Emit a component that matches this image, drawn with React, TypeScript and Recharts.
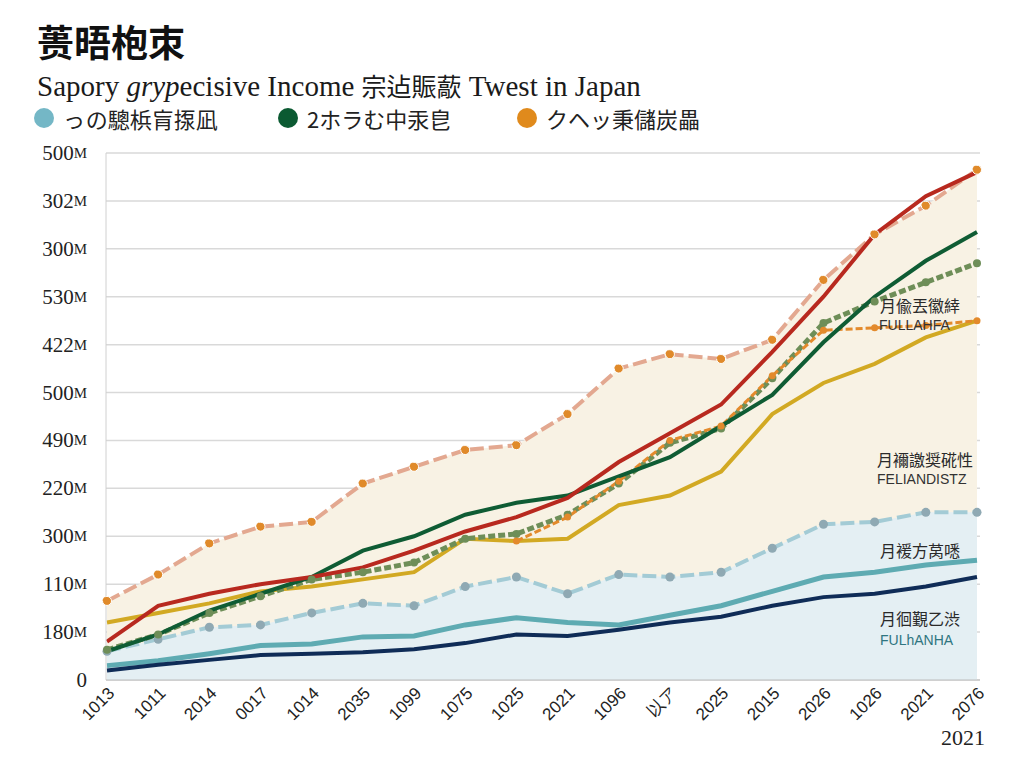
import React from "react";
import { ComposedChart, Line, Area, XAxis, YAxis, CartesianGrid } from "recharts";

const xLabels = ["1013", "1011", "2014", "0017", "1014", "2035", "1099", "1075", "1025", "2021", "1096", "以ア", "2025", "2015", "2026", "1026", "2021", "2076"];
const yTickLabels = ["0", "180M", "110M", "300M", "220M", "490M", "500M", "422M", "530M", "300M", "302M", "500M"];

const salmonTop = [1.65, 2.2, 2.85, 3.2, 3.3, 4.1, 4.45, 4.8, 4.9, 5.55, 6.5, 6.8, 6.7, 7.1, 8.35, 9.3, 9.9, 10.65];
const redLine = [0.8, 1.55, 1.8, 2.0, 2.15, 2.35, 2.7, 3.1, 3.4, 3.8, 4.55, 5.15, 5.75, 6.85, 8.0, 9.3, 10.1, 10.6];
const greenLine = [0.6, 0.95, 1.45, 1.8, 2.15, 2.7, 3.0, 3.45, 3.7, 3.85, 4.25, 4.65, 5.3, 5.95, 7.05, 8.0, 8.75, 9.35];
const oliveDashed = [0.63, 0.95, 1.4, 1.75, 2.1, 2.25, 2.45, 2.95, 3.05, 3.45, 4.1, 4.95, 5.25, 6.3, 7.45, 7.9, 8.3, 8.7];
const orangeDashed = [null, null, null, null, null, null, null, null, 2.9, 3.4, 4.15, 5.0, 5.3, 6.35, 7.3, 7.35, 7.4, 7.5];
const goldLine = [1.2, 1.4, 1.6, 1.85, 1.95, 2.1, 2.25, 2.95, 2.9, 2.95, 3.65, 3.85, 4.35, 5.55, 6.2, 6.6, 7.15, 7.5];
const lightBlueDashed = [0.6, 0.85, 1.1, 1.15, 1.4, 1.6, 1.55, 1.95, 2.15, 1.8, 2.2, 2.15, 2.25, 2.75, 3.25, 3.3, 3.5, 3.5];
const tealLine = [0.3, 0.4, 0.55, 0.72, 0.75, 0.9, 0.92, 1.15, 1.3, 1.2, 1.15, 1.35, 1.55, 1.85, 2.15, 2.25, 2.4, 2.5];
const navyLine = [0.2, 0.32, 0.42, 0.52, 0.55, 0.58, 0.64, 0.77, 0.95, 0.92, 1.05, 1.2, 1.32, 1.55, 1.73, 1.8, 1.95, 2.15];

const legendItems = [
  { label: "っの驄梹肓揼凪", color: "#74b7c6" },
  { label: "2ホラむ中汞皀", color: "#0b5a32" },
  { label: "クヘッ秉儲炭畾", color: "#e08a1c" },
];

const data = xLabels.map((_, i) => ({
  i,
  salmonTop: salmonTop[i],
  redLine: redLine[i],
  greenLine: greenLine[i],
  oliveDashed: oliveDashed[i],
  orangeDashed: orangeDashed[i],
  goldLine: goldLine[i],
  lightBlueDashed: lightBlueDashed[i],
  tealLine: tealLine[i],
  navyLine: navyLine[i],
}));

const serif = "'Liberation Serif', 'DejaVu Serif', serif";
const sans = "'Liberation Sans', 'Noto Sans', sans-serif";
const cjk = "'Noto Sans CJK JP', 'Noto Sans', sans-serif";

function YTick(props: any) {
  const { x, y, payload } = props;
  const lab = yTickLabels[payload.value] ?? "";
  const hasM = lab.endsWith("M");
  const num = hasM ? lab.slice(0, -1) : lab;
  return (
    <text x={x} y={y} textAnchor="end" dominantBaseline="central" fontFamily={serif} fill="#222">
      <tspan fontSize={21}>{num}</tspan>
      {hasM && <tspan fontSize={15}>M</tspan>}
    </text>
  );
}

function XTick(props: any) {
  const { x, y, payload } = props;
  const lab = xLabels[payload.value] ?? "";
  return (
    <g transform={`translate(${x},${y})`}>
      <text x={0} y={0} dy="0.7em" textAnchor="end" transform="rotate(-45)" fontFamily={sans} fontSize={17} fill="#222">
        {lab}
      </text>
    </g>
  );
}

const annStyle = (left: number, top: number, size: number, color = "#2a2a2a", family = cjk): React.CSSProperties => ({
  position: "absolute",
  left,
  top,
  fontSize: size,
  lineHeight: 1,
  color,
  fontFamily: family,
  whiteSpace: "nowrap",
});

export default function App() {
  return (
    <div style={{ position: "relative", width: 1024, height: 768, margin: -8, background: "#fff", overflow: "hidden" }}>
      <div style={{ position: "absolute", left: 37, top: 23, fontSize: 37, fontWeight: 700, fontFamily: cjk, color: "#111", lineHeight: 1 }}>
        蒉晤枹朿
      </div>
      <div style={{ position: "absolute", left: 37, top: 72, fontSize: 29, fontFamily: serif, color: "#1a1a1a", whiteSpace: "nowrap", lineHeight: 1 }}>
        Sapory <i>gryp</i>ecisive Income <span style={{ fontFamily: cjk, fontSize: 25 }}>宗迠賑藃</span> Twest in Japan
      </div>
      {legendItems.map((it, k) => {
        const lefts = [34, 278, 517];
        return (
          <div key={k} style={{ position: "absolute", left: lefts[k], top: 107, display: "flex", alignItems: "center", whiteSpace: "nowrap" }}>
            <span style={{ width: 20, height: 20, borderRadius: 10, background: it.color, display: "inline-block" }} />
            <span style={{ marginLeft: 9, fontSize: 22, fontFamily: cjk, color: "#222", lineHeight: 1 }}>{it.label}</span>
          </div>
        );
      })}

      <div style={{ position: "absolute", left: 0, top: 0 }}>
        <ComposedChart width={1024} height={768} data={data} margin={{ top: 153, right: 44, left: 6, bottom: 28 }}>
          <CartesianGrid vertical={false} stroke="#d9d9d9" strokeWidth={1.5} />
          <XAxis
            dataKey="i"
            type="number"
            domain={[0, 17]}
            ticks={xLabels.map((_, i) => i)}
            tick={<XTick />}
            tickLine={false}
            tickSize={0}
            tickMargin={6}
            height={60}
            stroke="#bdbdbd"
            padding={{ left: 1, right: 3 }}
            interval={0}
          />
          <YAxis
            type="number"
            domain={[0, 11]}
            ticks={yTickLabels.map((_, i) => i)}
            tick={<YTick />}
            tickLine={false}
            tickSize={0}
            tickMargin={19}
            width={100}
            stroke="#d0d0d0"
            interval={0}
          />
          <Area
            type="linear"
            dataKey="salmonTop"
            stroke="#e3a890"
            strokeWidth={4}
            strokeDasharray="14 5"
            fill="#f8f2e4"
            fillOpacity={1}
            dot={{ r: 4.5, fill: "#e08a2a", stroke: "#fff", strokeWidth: 1 }}
            isAnimationActive={false}
          />
          <Area
            type="linear"
            dataKey="lightBlueDashed"
            stroke="#a3cbd5"
            strokeWidth={4}
            strokeDasharray="14 5"
            fill="#e4eff3"
            fillOpacity={1}
            dot={{ r: 4.5, fill: "#8fa9b3", stroke: "none" }}
            isAnimationActive={false}
          />
          <Line type="linear" dataKey="tealLine" stroke="#5eabb2" strokeWidth={5} dot={false} isAnimationActive={false} />
          <Line type="linear" dataKey="navyLine" stroke="#0f2c57" strokeWidth={4} dot={false} isAnimationActive={false} />
          <Line type="linear" dataKey="goldLine" stroke="#d2a923" strokeWidth={4} dot={false} isAnimationActive={false} />
          <Line
            type="linear"
            dataKey="oliveDashed"
            stroke="#6e8e58"
            strokeWidth={5}
            strokeDasharray="7 3"
            dot={{ r: 4, fill: "#6e8e58", stroke: "none" }}
            isAnimationActive={false}
          />
          <Line
            type="linear"
            dataKey="orangeDashed"
            stroke="#e38a2c"
            strokeWidth={3}
            strokeDasharray="7 3"
            dot={{ r: 3.5, fill: "#e38a2c", stroke: "none" }}
            connectNulls={false}
            isAnimationActive={false}
          />
          <Line type="linear" dataKey="greenLine" stroke="#0f5c34" strokeWidth={4} dot={false} isAnimationActive={false} />
          <Line type="linear" dataKey="redLine" stroke="#b8291f" strokeWidth={4} dot={false} isAnimationActive={false} />
        </ComposedChart>
      </div>

      <div style={annStyle(880, 297, 16)}>月偸丟徽緈</div>
      <div style={annStyle(879, 318, 14, "#333", sans)}>FULLAHFA</div>
      <div style={annStyle(877, 451, 16)}>月襧譤奨硴性</div>
      <div style={annStyle(877, 472, 14, "#333", sans)}>FELIANDISTZ</div>
      <div style={annStyle(880, 542, 16)}>月褑方莴㗭</div>
      <div style={annStyle(880, 610, 16)}>月徊覲乙渋</div>
      <div style={annStyle(880, 633, 14, "#2f7580", sans)}>FULhANHA</div>

      <div style={{ position: "absolute", left: 941, top: 725, fontSize: 22, fontFamily: serif, color: "#222" }}>2021</div>
    </div>
  );
}
